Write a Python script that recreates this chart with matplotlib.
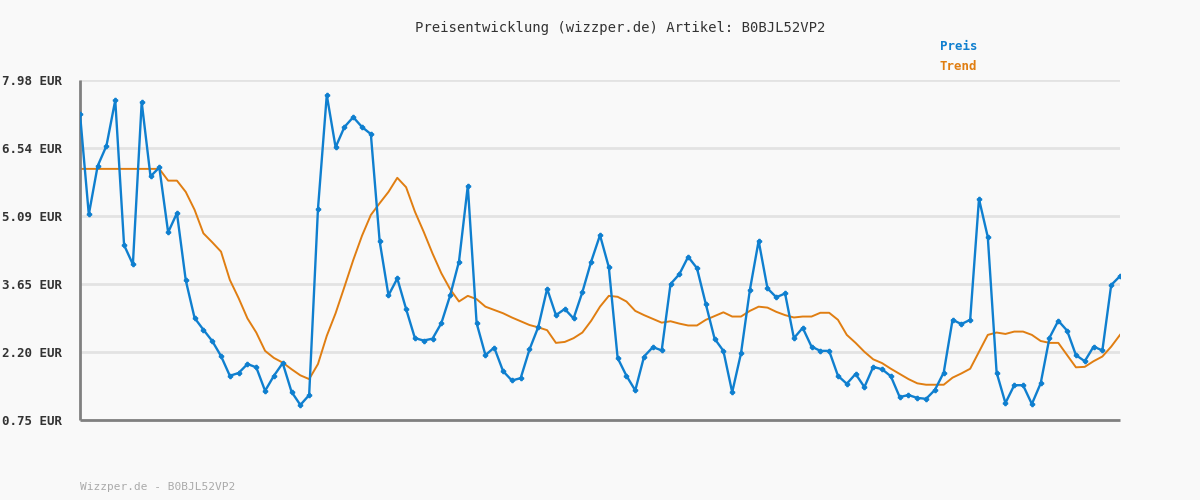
import numpy as np
import matplotlib
matplotlib.use("Agg")
import matplotlib.pyplot as plt

# values
preis = [7.26, 5.12, 6.15, 6.58, 7.55, 4.47, 4.06, 7.51, 5.93, 6.12,
         4.74, 5.15, 3.72, 2.92, 2.67, 2.43, 2.11, 1.69, 1.75, 1.94,
         1.87, 1.37, 1.69, 1.96, 1.35, 1.07, 1.28, 5.24, 7.66, 6.55,
         6.98, 7.19, 6.98, 6.83, 4.55, 3.40, 3.76, 3.11, 2.49, 2.44,
         2.48, 2.81, 3.40, 4.12, 5.73, 2.81, 2.13, 2.29, 1.79, 1.59,
         1.64, 2.25, 2.73, 3.54, 2.98, 3.11, 2.91, 3.47, 4.12, 4.68,
         4.00, 2.07, 1.69, 1.38, 2.10, 2.30, 2.23, 3.64, 3.85, 4.22,
         3.98, 3.22, 2.48, 2.22, 1.34, 2.17, 3.51, 4.56, 3.55, 3.36,
         3.44, 2.49, 2.71, 2.31, 2.22, 2.22, 1.69, 1.52, 1.73, 1.45,
         1.88, 1.83, 1.68, 1.24, 1.28, 1.22, 1.20, 1.39, 1.76, 2.88,
         2.79, 2.88, 5.45, 4.64, 1.76, 1.11, 1.49, 1.49, 1.09, 1.53,
         2.50, 2.86, 2.65, 2.13, 2.00, 2.31, 2.23, 3.62, 3.81]

trend = [6.09, 6.09, 6.09, 6.09, 6.09, 6.09, 6.09, 6.09, 6.09, 6.09,
         5.84, 5.84, 5.60, 5.22, 4.72, 4.53, 4.33, 3.73, 3.34, 2.91,
         2.61, 2.22, 2.07, 1.97, 1.83, 1.70, 1.62, 1.94, 2.54, 3.02,
         3.58, 4.15, 4.67, 5.11, 5.36, 5.60, 5.90, 5.70, 5.18, 4.75,
         4.29, 3.87, 3.53, 3.27, 3.39, 3.32, 3.16, 3.09, 3.02, 2.93,
         2.85, 2.77, 2.72, 2.66, 2.39, 2.41, 2.49, 2.61, 2.86, 3.16,
         3.39, 3.37, 3.27, 3.07, 2.98, 2.90, 2.82, 2.85, 2.80, 2.76,
         2.76, 2.88, 2.96, 3.04, 2.95, 2.95, 3.07, 3.16, 3.14, 3.05,
         2.98, 2.93, 2.95, 2.95, 3.03, 3.03, 2.88, 2.56, 2.39, 2.20,
         2.04, 1.96, 1.84, 1.73, 1.62, 1.53, 1.50, 1.50, 1.50, 1.65,
         1.74, 1.84, 2.20, 2.56, 2.61, 2.58, 2.63, 2.63, 2.56, 2.43,
         2.39, 2.39, 2.13, 1.87, 1.88, 2.00, 2.10, 2.31, 2.56]

yticks = [0.75, 2.20, 3.65, 5.09, 6.54, 7.98]
ylabels = ["0.75 EUR", "2.20 EUR", "3.65 EUR", "5.09 EUR", "6.54 EUR", "7.98 EUR"]

blue = "#0f7fcf"
orange = "#e07e12"
bg = "#f9f9f9"
mono = "DejaVu Sans Mono"

x = np.arange(len(preis))

fig = plt.figure(figsize=(12, 5), dpi=100, facecolor=bg)
ax = fig.add_axes([80 / 1200, 80 / 500, 1040 / 1200, 340 / 500], facecolor=bg)

for t in yticks:
    ax.axhline(t, color="#e3e3e3", lw=2, zorder=0)

ax.plot(x, trend, color=orange, lw=1.4, zorder=2)
ax.plot(x, preis, color=blue, lw=1.7, marker="P", markersize=3, zorder=3)

ax.set_xlim(0, len(preis) - 1)
ax.set_ylim(yticks[0], yticks[-1])
ax.set_xticks([])
ax.set_yticks(yticks)
ax.set_yticklabels(ylabels, fontfamily=mono, fontweight="bold", fontsize=9, color="#333333")
ax.tick_params(axis="y", length=0, pad=13)

for side in ["top", "right"]:
    ax.spines[side].set_visible(False)
for side in ["left", "bottom"]:
    ax.spines[side].set_color("#808080")
    ax.spines[side].set_linewidth(2)
    ax.spines[side].set_capstyle("butt")

fig.text(620 / 1200, 1 - 28 / 500, "Preisentwicklung (wizzper.de) Artikel: B0BJL52VP2",
         ha="center", va="center", fontfamily=mono, fontsize=10, color="#333333")
fig.text(940 / 1200, 1 - 47 / 500, "Preis", ha="left", va="center",
         fontfamily=mono, fontweight="bold", fontsize=9, color=blue)
fig.text(940 / 1200, 1 - 67 / 500, "Trend", ha="left", va="center",
         fontfamily=mono, fontweight="bold", fontsize=9, color=orange)
fig.text(80 / 1200, 1 - 487 / 500, "Wizzper.de - B0BJL52VP2", ha="left", va="center",
         fontfamily=mono, fontsize=8, color="#aaaaaa")

fig.savefig("out.png", dpi=100, facecolor=bg)
